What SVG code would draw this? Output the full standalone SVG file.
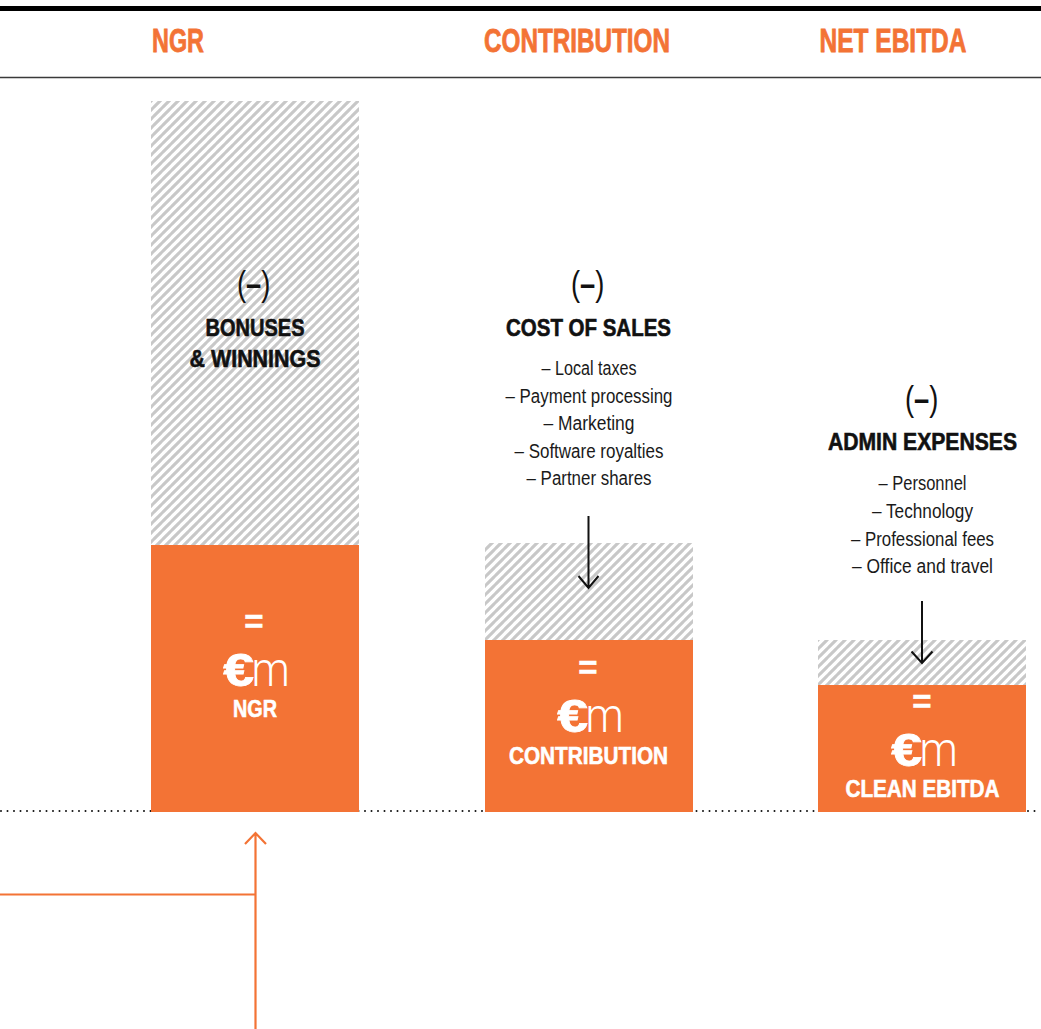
<svg xmlns="http://www.w3.org/2000/svg" width="1041" height="1029" viewBox="0 0 1041 1029">
<defs>
<pattern id="hatch" patternUnits="userSpaceOnUse" width="9" height="9">
<path d="M-1,1 l2,-2 M0,9 l9,-9 M8,10 l2,-2" stroke="#c8c8c8" stroke-width="3.1" fill="none"/>
</pattern>
<style>
.hd{font-family:"Liberation Sans",Arial,sans-serif;font-weight:bold;font-size:33px;fill:#F37335;stroke:#F37335;stroke-width:0.8;text-anchor:middle}
.sub{font-family:"Liberation Sans",Arial,sans-serif;font-weight:bold;font-size:23.5px;fill:#111;stroke:#111;stroke-width:0.6;text-anchor:middle}
.par{font-family:"Liberation Sans",Arial,sans-serif;font-size:35px;fill:#111}
.par .b{font-weight:bold}
.it{font-family:"Liberation Sans",Arial,sans-serif;font-size:19.5px;fill:#1a1a1a;text-anchor:middle}
.eq{font-family:"Liberation Sans",Arial,sans-serif;font-weight:bold;font-size:33px;fill:#fff;stroke:#fff;stroke-width:0.5;text-anchor:middle}
.eur{font-family:"Liberation Sans",Arial,sans-serif;font-weight:bold;font-size:47px;fill:#fff;stroke:#fff;stroke-width:0.8;text-anchor:end}
.m{font-family:Roboto,"Liberation Sans",sans-serif;font-weight:300;font-size:49px;fill:#fff}
.lbl{font-family:"Liberation Sans",Arial,sans-serif;font-weight:bold;font-size:24px;fill:#fff;stroke:#fff;stroke-width:0.6;text-anchor:middle}
.bar{fill:#F37335}
.hatch{fill:url(#hatch)}
.blk{stroke:#111;stroke-width:2;fill:none}
.org{stroke:#F37335;stroke-width:2.2;fill:none}
</style>
</defs>
<rect width="1041" height="1029" fill="#fff"/>
<g id="frame">
<rect x="0" y="6" width="1041" height="5" fill="#000"/>
<line x1="0" y1="77.5" x2="1041" y2="77.5" stroke="#3a3a3a" stroke-width="1.5"/>
<line x1="1" y1="811" x2="1041" y2="811" stroke="#111" stroke-width="2" stroke-linecap="round" stroke-dasharray="0 6.5"/>
</g>
<g id="headers">
<text class="hd" x="178" y="52" textLength="52" lengthAdjust="spacingAndGlyphs">NGR</text>
<text class="hd" x="577" y="52" textLength="186" lengthAdjust="spacingAndGlyphs">CONTRIBUTION</text>
<text class="hd" x="893" y="52" textLength="147" lengthAdjust="spacingAndGlyphs">NET EBITDA</text>
</g>
<g id="col-ngr">
<rect class="hatch" x="151" y="101" width="208" height="444"/>
<rect class="bar" x="151" y="545" width="208" height="267"/>
<text class="par" transform="translate(237,296) scale(0.78,1)">(<tspan class="b">–</tspan>)</text>
<text class="sub" x="255" y="336" textLength="99" lengthAdjust="spacingAndGlyphs">BONUSES</text>
<text class="sub" x="255" y="367" textLength="131" lengthAdjust="spacingAndGlyphs">&amp; WINNINGS</text>
<text class="eq" x="254" y="632.5">=</text>
<text class="eur" transform="translate(254,686) scale(1.18,1)">€</text>
<text class="m" transform="translate(251.5,686) scale(0.88,1)">m</text>
<text class="lbl" x="255" y="717" textLength="44" lengthAdjust="spacingAndGlyphs">NGR</text>
</g>
<g id="col-contribution">
<rect class="hatch" x="485" y="543" width="208" height="97"/>
<rect class="bar" x="485" y="640" width="208" height="172"/>
<text class="par" transform="translate(571,296) scale(0.78,1)">(<tspan class="b">–</tspan>)</text>
<text class="sub" x="588.5" y="336" textLength="165" lengthAdjust="spacingAndGlyphs">COST OF SALES</text>
<text class="it" x="589" y="375" textLength="95" lengthAdjust="spacingAndGlyphs">– Local taxes</text>
<text class="it" x="589" y="402.5" textLength="167" lengthAdjust="spacingAndGlyphs">– Payment processing</text>
<text class="it" x="589" y="430" textLength="91" lengthAdjust="spacingAndGlyphs">– Marketing</text>
<text class="it" x="589" y="457.5" textLength="149" lengthAdjust="spacingAndGlyphs">– Software royalties</text>
<text class="it" x="589" y="485" textLength="125" lengthAdjust="spacingAndGlyphs">– Partner shares</text>
<text class="eq" x="588" y="679">=</text>
<text class="eur" transform="translate(588,732) scale(1.18,1)">€</text>
<text class="m" transform="translate(585.5,732) scale(0.88,1)">m</text>
<text class="lbl" x="588.5" y="764" textLength="159" lengthAdjust="spacingAndGlyphs">CONTRIBUTION</text>
</g>
<g id="col-ebitda">
<rect class="hatch" x="818" y="640" width="208" height="45"/>
<rect class="bar" x="818" y="685" width="208" height="127"/>
<text class="par" transform="translate(905,411) scale(0.78,1)">(<tspan class="b">–</tspan>)</text>
<text class="sub" x="922.5" y="450" textLength="189" lengthAdjust="spacingAndGlyphs">ADMIN EXPENSES</text>
<text class="it" x="922.5" y="490" textLength="88" lengthAdjust="spacingAndGlyphs">– Personnel</text>
<text class="it" x="922.5" y="518" textLength="101" lengthAdjust="spacingAndGlyphs">– Technology</text>
<text class="it" x="922.5" y="545.5" textLength="143" lengthAdjust="spacingAndGlyphs">– Professional fees</text>
<text class="it" x="922.5" y="573" textLength="141" lengthAdjust="spacingAndGlyphs">– Office and travel</text>
<text class="eq" x="922" y="712.5">=</text>
<text class="eur" transform="translate(922,766) scale(1.18,1)">€</text>
<text class="m" transform="translate(919.5,766) scale(0.88,1)">m</text>
<text class="lbl" x="922.5" y="797" textLength="154" lengthAdjust="spacingAndGlyphs">CLEAN EBITDA</text>
</g>
<g id="connectors">
<path class="blk" d="M588.5,516 V588 M578.5,576 L588.5,588 L598.5,576"/>
<path class="blk" d="M922,601 V663 M911.5,651.5 L922,663 L932.5,651.5"/>
<path class="org" d="M255.5,1029 V833 M245,844 L255.5,833 L266,844"/>
<path class="org" d="M0,894.5 H255.5"/>
</g>
</svg>
